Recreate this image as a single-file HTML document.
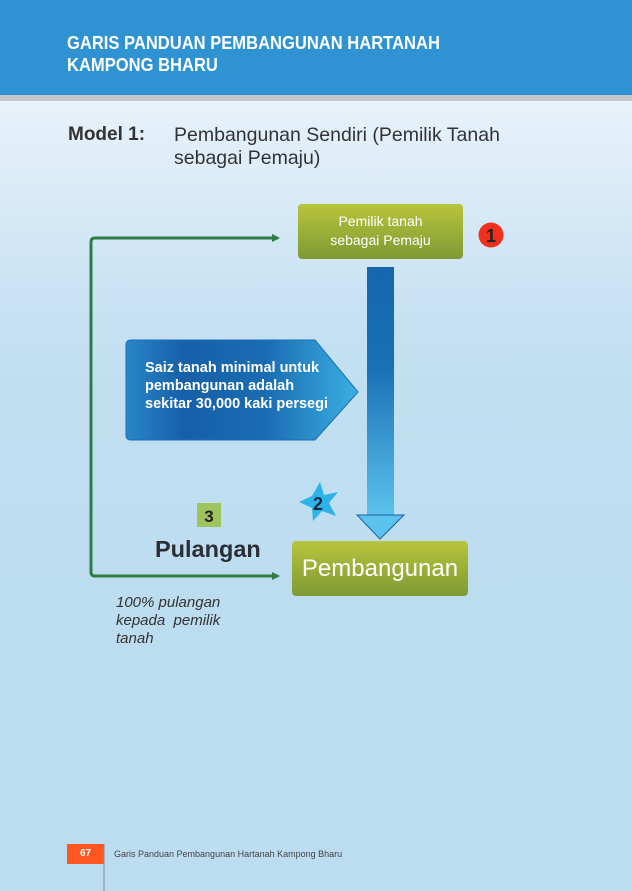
<!DOCTYPE html>
<html><head><meta charset="utf-8"><style>
*{margin:0;padding:0}
body{width:632px;height:891px;position:relative;overflow:hidden;font-family:"Liberation Sans",sans-serif;background:linear-gradient(#e8f2fa 101px,#c4e0f2 330px,#bcdcf0 600px,#bcdcf0)}
.a{position:absolute;white-space:nowrap}
</style></head><body>
<div class="a" style="left:0;top:0;width:632px;height:95px;background:#2f93d3"></div>
<div class="a" style="left:0;top:95px;width:632px;height:6px;background:#c3c7cc"></div>
<div class="a" style="left:67px;top:32px;color:#fff;font-weight:bold;font-size:18px;line-height:22px;transform:scaleX(0.92);transform-origin:0 0">GARIS PANDUAN PEMBANGUNAN HARTANAH<br>KAMPONG BHARU</div>
<div class="a" style="left:68px;top:124px;font-size:19px;font-weight:bold;color:#333">Model 1:</div>
<div class="a" style="left:174px;top:124px;font-size:19.5px;line-height:23px;color:#333">Pembangunan Sendiri (Pemilik Tanah<br>sebagai Pemaju)</div>
<svg class="a" style="left:0;top:0" width="632" height="891">
<defs>
<linearGradient id="g" x1="0" y1="0" x2="0" y2="1"><stop offset="0" stop-color="#b8c43c"/><stop offset="1" stop-color="#7e9a34"/></linearGradient>
<linearGradient id="b" x1="0" y1="0" x2="0" y2="1"><stop offset="0" stop-color="#1566ad"/><stop offset="0.4" stop-color="#1a70b5"/><stop offset="1" stop-color="#5bc3ee"/></linearGradient>
<linearGradient id="p" x1="0" y1="0" x2="1" y2="0"><stop offset="0" stop-color="#2a86c9"/><stop offset="0.25" stop-color="#1660a8"/><stop offset="0.6" stop-color="#1a6cb2"/><stop offset="1" stop-color="#3ab0e2"/></linearGradient>
</defs>
<path d="M278 238 H95 Q91 238 91 242 V572 Q91 576 95 576 H278" fill="none" stroke="#2e7d46" stroke-width="3"/>
<path d="M272 234 L280 238 L272 242Z M272 572 L280 576 L272 580Z" fill="#2e7d46"/>
<rect x="298" y="204" width="165" height="55" rx="4" fill="url(#g)"/>
<circle cx="491" cy="235" r="12.5" fill="#f0301c"/>
<text x="491" y="242" font-size="18" font-weight="bold" fill="#222" text-anchor="middle" font-family="Liberation Sans">1</text>
<rect x="367" y="267" width="27" height="250" fill="url(#b)"/>
<path d="M357 515 H404 L380 539Z" fill="#5bc3ee" stroke="#1d5fa0" stroke-width="1"/>
<path d="M131 340 H315 L358 392 L315 440 H131 Q126 440 126 435 V345 Q126 340 131 340Z" fill="url(#p)" stroke="#1a6fb0" stroke-width="1"/>
<polygon points="320,482 324,495 338,492 329,503 336,516 322,511 313,521 312,508 299,502 312,496" fill="#2cb3ea"/>
<text x="318" y="510" font-size="18" font-weight="bold" fill="#1a2a3a" text-anchor="middle" font-family="Liberation Sans">2</text>
<rect x="197" y="503" width="24" height="24" fill="#9fc45c"/>
<text x="209" y="522" font-size="17" font-weight="bold" fill="#222" text-anchor="middle" font-family="Liberation Sans">3</text>
<rect x="292" y="541" width="176" height="55" rx="4" fill="url(#g)"/>
<rect x="67" y="844" width="37" height="20" fill="#ff5722"/>
<line x1="104" y1="844" x2="104" y2="891" stroke="#7e8fa0" stroke-width="1"/>
</svg>
<div class="a" style="left:298px;top:212px;width:165px;text-align:center;color:#fff;font-size:14px;line-height:19px">Pemilik tanah<br>sebagai Pemaju</div>
<div class="a" style="left:145px;top:359px;color:#fff;font-size:14.5px;font-weight:bold;line-height:18px">Saiz tanah minimal untuk<br>pembangunan adalah<br>sekitar 30,000 kaki persegi</div>
<div class="a" style="left:155px;top:536px;color:#2a2f36;font-size:23.5px;font-weight:bold">Pulangan</div>
<div class="a" style="left:292px;top:555px;width:176px;text-align:center;color:#fff;font-size:24px">Pembangunan</div>
<div class="a" style="left:116px;top:594px;color:#333;font-size:15px;font-style:italic;line-height:18px">100% pulangan<br>kepada&nbsp; pemilik<br>tanah</div>
<div class="a" style="left:67px;top:848px;width:37px;text-align:center;color:#fff;font-size:10px;font-weight:bold">67</div>
<div class="a" style="left:114px;top:849px;color:#444;font-size:9px">Garis Panduan Pembangunan Hartanah Kampong Bharu</div>
</body></html>
